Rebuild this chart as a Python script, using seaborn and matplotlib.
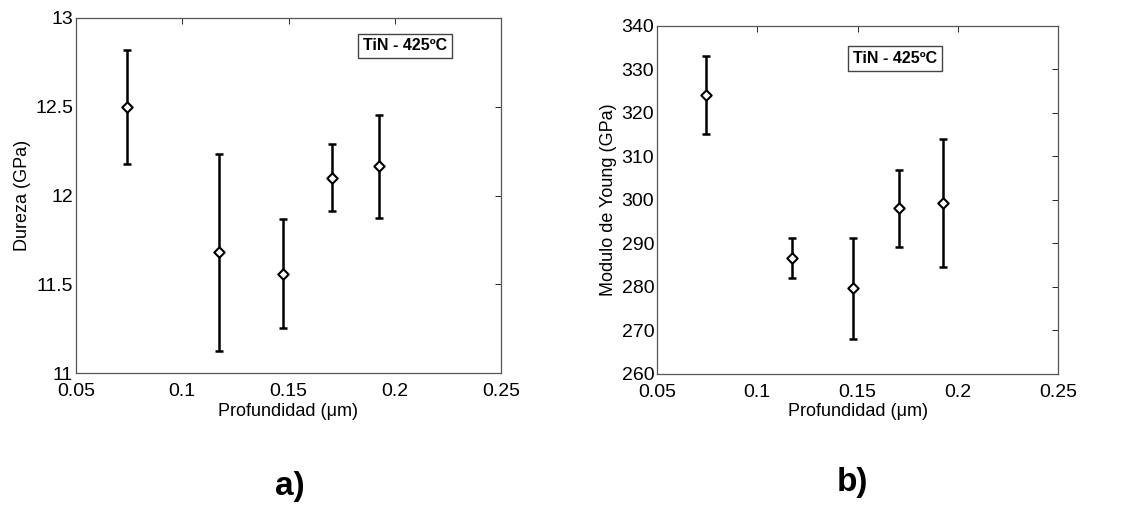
import pandas as pd
import seaborn as sns
from matplotlib import pyplot as plt

# data
profundidad = [0.0742, 0.1171, 0.1476, 0.1706, 0.1924]
dureza = [12.50, 11.68, 11.56, 12.10, 12.165]
dureza_err = [0.32, 0.555, 0.305, 0.19, 0.29]
young = [324.1, 286.7, 279.7, 298.1, 299.3]
young_err = [9.0, 4.6, 11.6, 8.9, 14.7]

sns.set_style('white')
plt.rcParams['font.family'] = ['Liberation Sans', 'DejaVu Sans']
plt.rcParams['text.color'] = 'black'
plt.rcParams['axes.labelcolor'] = 'black'

fig = plt.figure(figsize=(11.42, 5.09), dpi=100)
ax1 = fig.add_axes([76 / 1142, 1 - 373 / 509, 425 / 1142, 355 / 509])
ax2 = fig.add_axes([657 / 1142, 1 - 374 / 509, 401 / 1142, 348 / 509])

panels = [
    (ax1, dureza, dureza_err, 'Dureza (GPa)', (11, 13), [11, 11.5, 12, 12.5, 13],
     ['11', '11.5', '12', '12.5', '13'], (0.185, 12.885), 'a)'),
    (ax2, young, young_err, 'Modulo de Young (GPa)', (260, 340), list(range(260, 341, 10)),
     [str(v) for v in range(260, 341, 10)], (0.1478, 334.2), 'b)'),
]

for ax, vals, errs, ylab, ylim, yt, ytl, boxpos, tag in panels:
    df = pd.DataFrame({'x': profundidad, 'y': vals, 'e': errs})
    ax.errorbar(df['x'], df['y'], yerr=df['e'], fmt='none', ecolor='black',
                elinewidth=1.8, capsize=3, capthick=1.8, zorder=2)
    sns.scatterplot(data=df, x='x', y='y', ax=ax, marker='D', s=28,
                    facecolor='white', edgecolor='black', linewidth=1.5, zorder=3)
    ax.set_xlim(0.05, 0.25)
    ax.set_ylim(*ylim)
    ax.set_xticks([0.05, 0.1, 0.15, 0.2, 0.25])
    ax.set_xticklabels(['0.05', '0.1', '0.15', '0.2', '0.25'])
    ax.set_yticks(yt)
    ax.set_yticklabels(ytl)
    ax.tick_params(direction='in', top=True, right=True, length=4, width=0.6,
                   labelsize=14, colors='black', pad=2)
    ax.tick_params(axis='x', pad=7)
    for s in ax.spines.values():
        s.set_color('#555555')
        s.set_linewidth(0.9)
    ax.set_xlabel('Profundidad (\u03bcm)', fontsize=13, labelpad=2)
    ax.set_ylabel(ylab, fontsize=13, labelpad=3)
    ax.text(boxpos[0], boxpos[1], 'TiN - 425\u00baC', fontsize=11.5, fontweight='bold',
            va='top', ha='left',
            bbox=dict(boxstyle='square,pad=0.3', facecolor='white', edgecolor='#444444', linewidth=1))

fig.text(290 / 1142, 1 - 487 / 509, 'a)', fontsize=24, fontweight='bold',
         family=['Liberation Sans Narrow', 'Liberation Sans'], ha='center', va='center')
fig.text(852 / 1142, 1 - 482 / 509, 'b)', fontsize=24, fontweight='bold',
         family=['Liberation Sans Narrow', 'Liberation Sans'], ha='center', va='center')

fig.savefig('out.png', dpi=100, facecolor='white')
